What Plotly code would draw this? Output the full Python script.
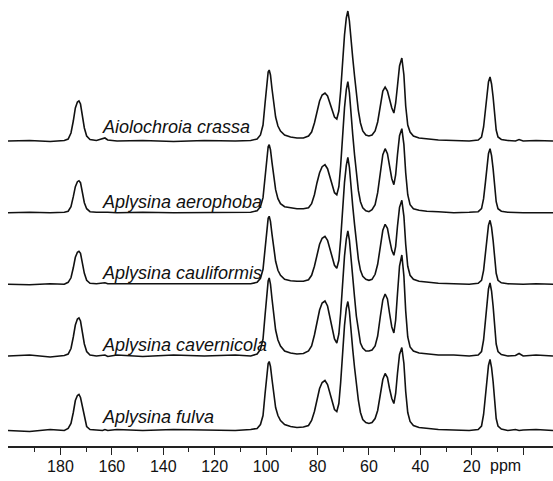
import plotly.graph_objects as go

# Shared chemical-shift grid (ppm)
ppm = ([200.4, 192, 184, 178.5]
       + [177.0, 175.9, 175.0, 174.2, 173.4, 172.8, 172.2, 171.5, 170.7, 169.8, 168.5]
       + [166, 163.6, 162.7, 161.6, 158, 148, 136, 124, 112, 106]
       + [103.5, 102.2, 101.2, 100.4, 99.8, 99.2, 98.8, 98.3, 97.7, 97.1, 96.3, 95.4, 94.4, 92.8, 90.5]
       + [88, 85.5, 83.5]
       + [82.3, 81.2, 80.2, 79.2, 78.2, 77.1, 76.1, 75.2, 74.3, 73.4, 72.5]
       + [71.7, 71.0, 70.2, 69.5, 68.8, 68.2, 67.6, 67.0, 66.3, 65.6, 64.9, 64.1, 63.3, 62.4, 61.2, 60.0]
       + [58.8, 57.6, 56.6, 55.6, 54.6, 53.7, 52.8, 52.0, 51.1, 50.3]
       + [49.6, 48.9, 48.1, 47.2, 46.4, 45.7, 44.9, 44.0, 42.7, 40.5, 37.5, 33]
       + [27, 21]
       + [17.5, 16.2, 15.4, 14.7, 14.1, 13.5, 12.9, 12.3, 11.7, 11.1, 10.5, 9.8, 8.5]
       + [6, 3, 1.6, 0, -5, -11.6])

species = ["Aiolochroia crassa", "Aplysina aerophoba", "Aplysina cauliformis",
           "Aplysina cavernicola", "Aplysina fulva"]

crassa = ([0, 0.5, -0.5, 0.5]
          + [2, 8, 20, 33, 39, 40, 37, 27, 13, 5, 1.5]
          + [0.5, 2, 3, 1, 0, 0.5, -0.5, 0.5, 0, 0.5]
          + [2, 6, 16, 38, 58, 69, 71, 66, 52, 38, 24, 15, 10, 6, 4]
          + [3, 3, 5]
          + [9, 18, 30, 40, 46, 48, 45, 38, 30, 24, 22]
          + [30, 50, 82, 106, 123, 130, 120, 100, 83, 65, 46, 30, 18, 10, 6, 5]
          + [6, 10, 19, 36, 50, 54, 50, 42, 33, 28]
          + [38, 55, 75, 83, 66, 35, 16, 9, 5, 3, 2, 1]
          + [0.5, 0]
          + [1, 4, 14, 30, 46, 59, 64, 57, 44, 24, 11, 4, 1.5]
          + [0.5, 0, 1.5, 0, 0.5, 0])

aerophoba = ([0, 0.5, 0, 0.5]
             + [1.5, 6, 16, 26, 31, 32, 30, 22, 10, 4, 1]
             + [0.5, 0.5, 1, 0.5, 0, 0.5, 0, 0, 0.5, 0.5]
             + [2, 6, 15, 36, 55, 66, 68, 63, 50, 36, 23, 14, 9, 6, 5]
             + [4, 4, 5]
             + [9, 18, 30, 40, 46, 48, 44, 36, 26, 20, 18]
             + [26, 47, 80, 105, 123, 131, 120, 98, 78, 58, 38, 22, 11, 5, 2, 1]
             + [3, 8, 20, 40, 58, 64, 59, 47, 34, 28]
             + [38, 58, 77, 84, 68, 40, 18, 8, 4, 2.5, 1.5, 1]
             + [0, 0.5]
             + [1, 4, 14, 30, 46, 59, 64, 57, 44, 24, 11, 4, 1.5]
             + [0.5, 0, 0.5, 0, 0, 0])

cauliformis = ([0, -0.5, 0.5, 0]
               + [2, 6.5, 16.5, 27, 32, 33, 31, 22, 11, 4, 1]
               + [0.5, 1, 1.5, 0.5, 0.5, 0, 0.5, 0, 0, 0.5]
               + [2, 6, 15, 36, 55, 66, 68, 63, 50, 36, 23, 14, 9, 5, 3.5]
               + [3, 3, 4.5]
               + [9, 18, 30, 40, 46, 48, 44, 36, 26, 19, 16]
               + [24, 45, 78, 102, 119, 127, 117, 96, 78, 60, 41, 25, 14, 8, 5, 4]
               + [5, 10, 20, 38, 54, 60, 56, 45, 34, 29]
               + [38, 58, 77, 84, 68, 40, 18, 9, 5, 3, 2, 1]
               + [0.5, 0]
               + [1, 4, 14, 30, 46, 59, 64, 57, 44, 24, 11, 4, 1.5]
               + [0.5, 0, 0.5, 0, 0.5, 0])

cavernicola = ([0, 1, -1, 0.5]
               + [2, 7.5, 19, 31, 37, 38, 35, 25, 12, 4.5, 1]
               + [0, 1, 1, -0.5, 1, -0.5, 1, 0, 1, 0]
               + [2, 6.5, 17, 41, 63, 75, 78, 72, 57, 41, 26, 16, 10, 5, 3]
               + [2, 2.5, 5]
               + [10, 21, 35, 46, 53, 55, 50, 40, 27, 17, 13]
               + [22, 43, 76, 100, 117, 125, 116, 96, 78, 59, 40, 24, 13, 8, 5, 5]
               + [6, 10, 20, 39, 56, 62, 57, 43, 29, 23]
               + [36, 62, 90, 101, 80, 45, 19, 9, 5, 3, 2, 1]
               + [1, 0]
               + [1, 4.5, 16, 34, 53, 67, 73, 65, 50, 27, 12, 4.5, 1.5]
               + [0, 0.5, 2.5, 0, 1, 0])

fulva = ([0, -1, 1, 0]
         + [2, 7, 18, 30, 35, 36, 33, 24, 12, 4, 1]
         + [0.5, 0, 1, 0, 1, 0, 1, 0.5, 0, 1]
         + [2, 6, 15, 37, 56, 67, 69, 64, 51, 37, 23, 15, 10, 6, 4]
         + [3, 3.5, 5]
         + [10, 19, 31, 42, 48, 50, 46, 38, 28, 21, 19]
         + [27, 48, 81, 105, 122, 129, 119, 99, 81, 63, 45, 30, 18, 11, 8, 7]
         + [8, 12, 20, 36, 51, 57, 53, 42, 32, 27]
         + [37, 57, 76, 83, 67, 39, 18, 9, 5, 3, 2, 1]
         + [0.5, 0]
         + [1, 4.5, 16, 33, 51, 65, 71, 63, 49, 27, 12, 4.5, 1.5]
         + [0, 1, 0, 0.5, 1, 0])

spectra = [crassa, aerophoba, cauliformis, cavernicola, fulva]

major_ticks = [180, 160, 140, 120, 100, 80, 60, 40, 20, 0]
major_labels = ["180", "160", "140", "120", "100", "80", "60", "40", "20", ""]
minor_ticks = [190, 170, 150, 130, 110, 90, 70, 50, 30, 10]
unit_label = "ppm"

# layout (vertical stacking offsets, label placement)
offsets = [305, 233.3, 161.7, 90, 15.5]
label_y = [319.3, 244.3, 172.7, 101, 29.3]
label_x = 164.6

FONT = "Liberation Sans, Arial, sans-serif"

fig = go.Figure()
for name, spec, off in zip(species, spectra, offsets):
    assert len(spec) == len(ppm), (name, len(spec), len(ppm))
    fig.add_trace(go.Scatter(
        x=ppm, y=[v + off for v in spec], mode="lines", name=name,
        line=dict(color="#111111", width=1.6), showlegend=False, hoverinfo="skip"))

for name, ly in zip(species, label_y):
    fig.add_annotation(x=label_x, y=ly, xref="x", yref="y", text=f"<i>{name}</i>",
                       showarrow=False, xanchor="left", yanchor="middle",
                       font=dict(family=FONT, size=18, color="#111111"))

fig.add_annotation(x=13.8, y=-0.043, xref="x", yref="paper", text=unit_label,
                   showarrow=False, xanchor="left", yanchor="middle",
                   font=dict(family=FONT, size=16, color="#111111"))

fig.update_layout(
    width=553, height=481,
    margin=dict(l=8, r=0, t=0, b=35),
    paper_bgcolor="white", plot_bgcolor="white",
    xaxis=dict(range=[200.4, -11.6], showline=True, linecolor="#222222", linewidth=1.6,
               ticks="outside", ticklen=7, tickwidth=1.4, tickcolor="#222222",
               tickvals=major_ticks, ticktext=major_labels, ticklabelstandoff=-2,
               tickfont=dict(family=FONT, size=16, color="#111111"),
               minor=dict(tickvals=minor_ticks, ticks="outside", ticklen=4,
                          tickwidth=1.2, tickcolor="#222222"),
               showgrid=False, zeroline=False, fixedrange=True),
    yaxis=dict(range=[0, 446], visible=False, showgrid=False, zeroline=False),
)

fig.write_html("out.html")
